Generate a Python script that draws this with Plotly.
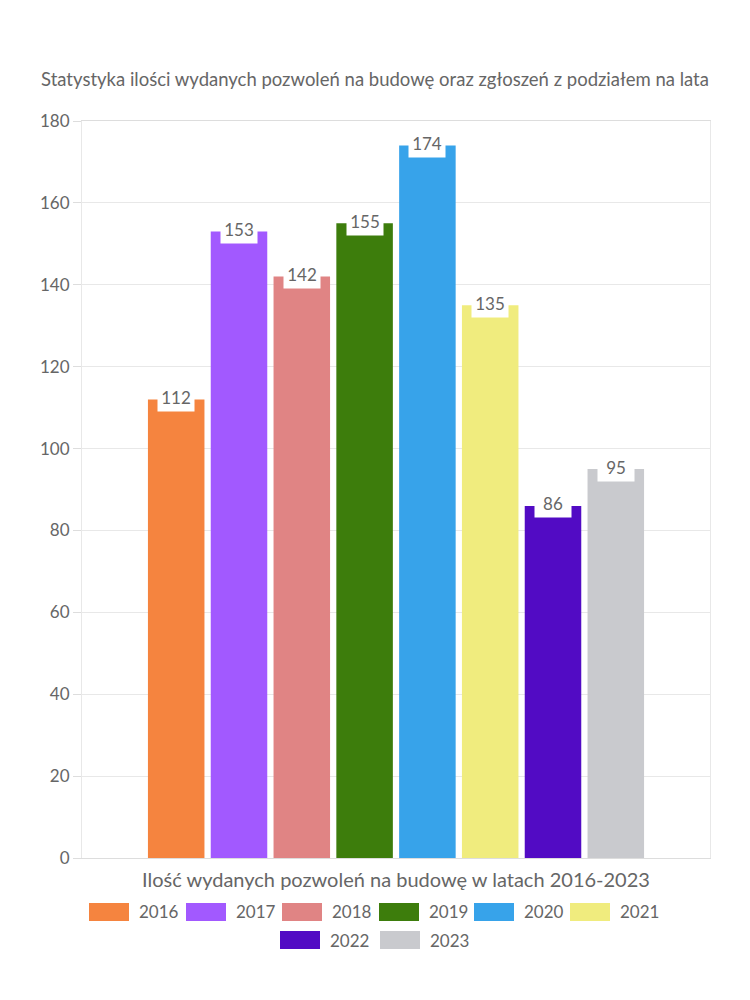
import plotly.graph_objects as go

years = ["2016", "2017", "2018", "2019", "2020", "2021", "2022", "2023"]
values = [112, 153, 142, 155, 174, 135, 86, 95]
colors = ["#F5843F", "#A259FF", "#E08484", "#3D7D0C", "#37A3EA", "#F0EC7E", "#520BC4", "#C9CACE"]
y_ticks = [0, 20, 40, 60, 80, 100, 120, 140, 160, 180]

title_text = "Statystyka ilości wydanych pozwoleń na budowę oraz zgłoszeń z podziałem na lata"
x_title = "Ilość wydanych pozwoleń na budowę w latach 2016-2023"

FONT = "Lato"
GRAY = "#666666"

W, H = 750, 1000
ML, MR, MT, MB = 82, 40, 121, 142
PW, PH = W - ML - MR, H - MT - MB
BARGAP = 0.2
GROUPGAP = 0.1

fig = go.Figure()
for yr, v, c in zip(years, values, colors):
    fig.add_trace(go.Bar(x=[0], y=[v], name=yr, marker=dict(color=c, line=dict(width=0)),
                         showlegend=False, hoverinfo="y+name"))

n = len(years)
group_w = 1 - BARGAP
slot = group_w / n
annotations = []
for i, v in enumerate(values):
    cx = -group_w / 2 + slot * (i + 0.5)
    annotations.append(dict(x=cx, y=v, xref="x", yref="y", text=str(v), showarrow=False,
                            yanchor="middle", yshift=2,
                            font=dict(family=FONT, size=17, color=GRAY),
                            bgcolor="white", borderpad=3, width=30))

# manual legend
def px_to_paper(px, py):
    return (px - ML) / PW, (H - MB - py) / PH

legend_pos = [(89, 912), (186, 912), (282, 912), (379, 912), (474, 912), (570, 912),
              (280, 940), (380, 940)]
shapes = []
for (lx, ly), yr, c in zip(legend_pos, years, colors):
    x0, y0 = px_to_paper(lx, ly - 9)
    x1, y1 = px_to_paper(lx + 40, ly + 9)
    shapes.append(dict(type="rect", xref="paper", yref="paper", x0=x0, x1=x1, y0=y1, y1=y0,
                       fillcolor=c, line=dict(width=0)))
    tx, ty = px_to_paper(lx + 48, ly)
    annotations.append(dict(x=tx, y=ty, xref="paper", yref="paper", text=yr, showarrow=False,
                            xanchor="left", yanchor="middle",
                            font=dict(family=FONT, size=17, color=GRAY)))

fig.update_layout(
    width=W, height=H,
    margin=dict(l=ML, r=MR, t=MT, b=MB),
    paper_bgcolor="white", plot_bgcolor="white",
    barmode="group", bargap=BARGAP, bargroupgap=GROUPGAP,
    title=dict(text=title_text, x=0.5, xanchor="center", y=1 - 80 / H, yanchor="middle",
               font=dict(family=FONT, size=18.5, color=GRAY)),
    xaxis=dict(range=[-0.5, 0.5], showticklabels=False, showgrid=False, zeroline=False,
               showline=True, linecolor="#dddddd", mirror=True, ticks="",
               title=dict(text=x_title, standoff=14, font=dict(family=FONT, size=20, color=GRAY))),
    yaxis=dict(range=[0, 180], tickvals=y_ticks, showgrid=True, gridcolor="#e8e8e8",
               zeroline=False, showline=True, linecolor="#e8e8e8", mirror=True,
               ticks="outside", ticklen=8, tickcolor="#dddddd",
               tickfont=dict(family=FONT, size=17, color=GRAY)),
    annotations=annotations, shapes=shapes,
    showlegend=False,
)

fig.write_html("out.html")
